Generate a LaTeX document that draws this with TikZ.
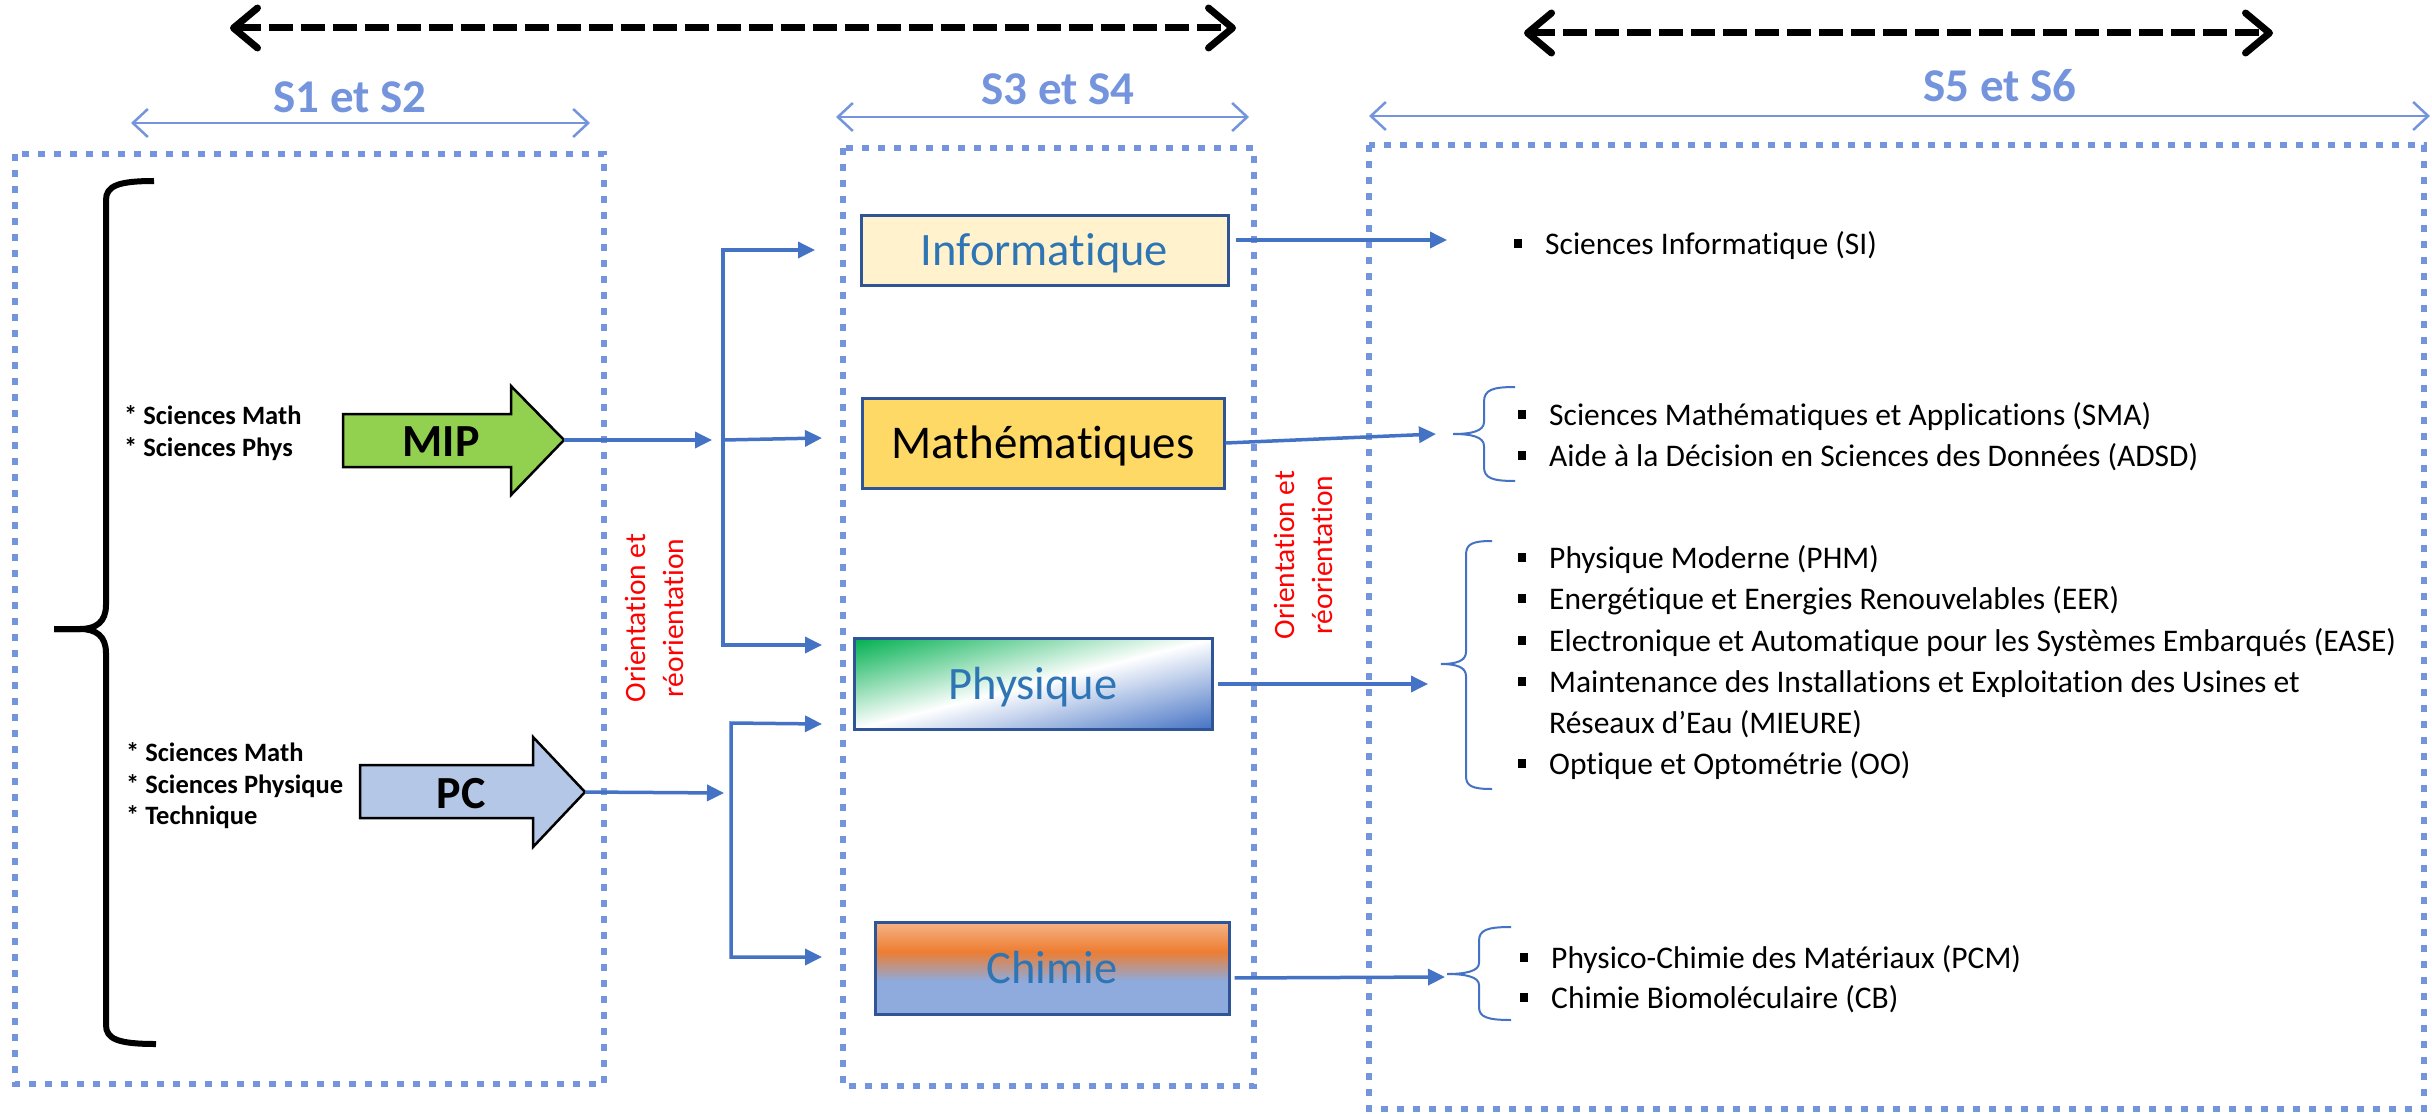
\documentclass[tikz,border=0pt]{standalone}
\usepackage{fontspec}
\setmainfont{Carlito}[Ligatures=NoCommon]
\usetikzlibrary{arrows.meta}
\definecolor{dotblue}{RGB}{116,149,221}
\definecolor{connblue}{RGB}{68,114,196}
\definecolor{txtblue}{RGB}{46,117,182}
\definecolor{bordblue}{RGB}{47,85,151}
\definecolor{mipgreen}{RGB}{146,208,80}
\definecolor{pcblue}{RGB}{180,199,231}
\definecolor{infofill}{RGB}{255,242,204}
\definecolor{mathfill}{RGB}{255,217,102}
\definecolor{physgreen}{RGB}{0,176,80}
\definecolor{physblue}{RGB}{68,114,196}
\definecolor{chlight}{RGB}{245,180,135}
\definecolor{chorange}{RGB}{237,125,49}
\definecolor{chblue}{RGB}{143,170,220}
\definecolor{redtxt}{RGB}{255,0,0}
\pgfdeclareverticalshading{chimshade}{100bp}{color(0bp)=(chblue); color(43bp)=(chblue); color(59bp)=(chorange); color(75bp)=(chlight); color(100bp)=(chlight)}
\newcommand{\myfs}[2]{\fontsize{#1}{#2}\selectfont}
\newcommand{\itembul}{\rule[6pt]{8pt}{9pt}\hspace{23pt}}
\tikzset{
  dotbox/.style={draw=dotblue, line width=6.5pt, dash pattern=on 7pt off 9pt},
  conn/.style={draw=connblue, line width=3.5pt, -{Triangle[length=17pt,width=16pt]}},
  connboth/.style={draw=connblue, line width=3.5pt, {Triangle[length=17pt,width=16pt]}-{Triangle[length=17pt,width=16pt]}},
  bigarrow/.style={draw=black, line width=7pt, dash pattern=on 24pt off 8pt,
     {Straight Barb[length=24pt,width=40pt,round]}-{Straight Barb[length=24pt,width=40pt,round]}},
  sline/.style={draw=dotblue, line width=2.5pt,
     {Straight Barb[length=15pt,width=28pt]}-{Straight Barb[length=15pt,width=28pt]}},
  slabel/.style={text=dotblue, font=\bfseries\myfs{47}{50}, inner sep=0, text height=29pt, text depth=0pt},
  boxst/.style={draw=bordblue, line width=3pt, inner sep=0, text height=30pt, text depth=0pt, font=\myfs{46.5}{50}},
  blockarrow/.style={draw=black, line width=2.5pt, line join=miter},
  blocklabel/.style={font=\bfseries\myfs{46}{50}, inner sep=0, text height=30pt, text depth=0pt},
  redlab/.style={text=redtxt, font=\myfs{29.5}{38}, rotate=90, align=center, inner sep=0},
  leftlab/.style={font=\bfseries\myfs{26.5}{31.5}, align=left, inner sep=0, anchor=west},
  itemst/.style={font=\myfs{31.5}{36}, inner sep=0, anchor=base west},
  bracebl/.style={draw=connblue, line width=2pt},
}
\begin{document}
\begin{tikzpicture}[x=1pt,y=-1pt]
\useasboundingbox (0,0) rectangle (2432,1113);
\fill[white] (0,0) rectangle (2432,1113);

% column containers
\draw[dotbox] (15,154) rectangle (604,1084);
\draw[dotbox] (843,148) rectangle (1254,1086);
\draw[dotbox] (1369,145) rectangle (2424,1109);

% top dashed arrows
\coordinate (d1l) at (230,28);
\coordinate (d1r) at (1236,28);
\draw[bigarrow] (d1l) -- (d1r);
\coordinate (d2l) at (1524,33);
\coordinate (d2r) at (2273,33);
\draw[bigarrow] (d2l) -- (d2r);

% semester labels
\node[slabel] (s1) at (350,98) {S1 et S2};
\node[slabel] (s3) at (1058,90) {S3 et S4};
\node[slabel] (s5) at (2000,87) {S5 et S6};
\coordinate (s1l) at (131,123); \coordinate (s1r) at (590,123);
\coordinate (s3l) at (836,117); \coordinate (s3r) at (1249,117);
\coordinate (s5l) at (1369,116); \coordinate (s5r) at (2430,116);
\draw[sline] (s1l) -- (s1r);
\draw[sline] (s3l) -- (s3r);
\draw[sline] (s5l) -- (s5r);

% big black brace
\draw[line width=6pt] (154,181) .. controls (118,181) and (106,186) .. (106,200)
  -- (106,605) .. controls (106,622) and (96,629) .. (80,629) -- (54,629);
\draw[line width=6pt] (54,629) -- (80,629) .. controls (96,629) and (106,636) .. (106,653)
  -- (106,1025) .. controls (106,1039) and (118,1044) .. (156,1044);

% left texts
\node[leftlab] (g1) at (124,433) {* Sciences Math\\* Sciences Phys};
\node[leftlab] (g2) at (126,786) {* Sciences Math\\* Sciences Physique\\* Technique};

% MIP and PC block arrows
\draw[blockarrow, fill=mipgreen] (343,414) -- (511,414) -- (511,386) -- (564,440) -- (511,495) -- (511,467) -- (343,467) -- cycle;
\node[blocklabel] (mip) at (441,441) {MIP};
\coordinate (miptip) at (564,440);
\draw[blockarrow, fill=pcblue] (360,765) -- (533,765) -- (533,737) -- (585,792) -- (533,847) -- (533,818) -- (360,818) -- cycle;
\node[blocklabel] (pc) at (461,793) {PC};
\coordinate (pctip) at (585,792);

% physique diagonal gradient (clipped)
\begin{scope}
  \clip (854,638.5) rectangle (1212,729.5);
  \begin{scope}[transform canvas={shift={(1033,684)}, rotate=14.26}]
    \shade[top color=physgreen, bottom color=physblue, middle color=white] (-200,-88.2) rectangle (200,88.2);
  \end{scope}
\end{scope}

% S3/S4 boxes
\node[boxst, fill=infofill, text=txtblue, minimum width=367pt, minimum height=70pt] (info) at (1044.5,250) {Informatique};
\node[boxst, fill=mathfill, text=black, minimum width=362pt, minimum height=90pt, font=\myfs{47}{50}] (math) at (1043,443) {Mathématiques};
\node[boxst, text=txtblue, minimum width=358pt, minimum height=91pt] (phys) at (1033,684) {Physique};
\node[boxst, shade, shading=chimshade, text=txtblue, minimum width=354pt, minimum height=92pt] (chim) at (1052,968) {Chimie};

% orientation connectors (left)
\coordinate (j1) at (712,440);
\coordinate (v1t) at (723,250);
\coordinate (v1m) at (723,440);
\coordinate (v1b) at (723,645);
\coordinate (ainfo) at (815,250);
\coordinate (amath) at (822,438);
\coordinate (aphys1) at (822,645);
\draw[conn] (miptip) -- (j1);
\draw[connboth] (ainfo) -- (v1t) -- (v1b) -- (aphys1);
\draw[conn] (v1m) -- (amath);

\coordinate (j2) at (724,793);
\coordinate (v2t) at (731,723);
\coordinate (v2b) at (731,957);
\coordinate (aphys2) at (822,724);
\coordinate (achim) at (822,957);
\draw[conn] (pctip) -- (j2);
\draw[connboth] (aphys2) -- (v2t) -- (v2b) -- (achim);

% red labels
\node[redlab] (or1) at (654,618) {Orientation et\\réorientation};
\node[redlab] (or2) at (1303,555) {Orientation et\\réorientation};

% outgoing connectors
\coordinate (tsi) at (1447,240);
\coordinate (tmath) at (1436,434);
\coordinate (tphys) at (1428,684);
\coordinate (tchim) at (1445,977);
\draw[conn, shorten <=6pt] (info.east |- tsi) -- (tsi);
\draw[conn] (math.east) -- (tmath);
\draw[conn, shorten <=4pt] (phys.east) -- (tphys);
\draw[conn, shorten <=4pt] ([yshift=-10pt]chim.east) -- (tchim);

% thin blue braces
\draw[bracebl] (1515,387) .. controls (1492,387) and (1484,390) .. (1484,402) -- (1484,422)
  .. controls (1484,431) and (1472,434) .. (1453,434)
  .. controls (1472,434) and (1484,437) .. (1484,446) -- (1484,467)
  .. controls (1484,478) and (1492,481) .. (1515,481);
\draw[bracebl] (1492,541) .. controls (1472,541) and (1466,544) .. (1466,555) -- (1466,652)
  .. controls (1466,661) and (1456,664) .. (1441,664)
  .. controls (1456,664) and (1466,667) .. (1466,676) -- (1466,776)
  .. controls (1466,786) and (1472,789) .. (1492,789);
\draw[bracebl] (1511,927) .. controls (1487,927) and (1479,930) .. (1479,941) -- (1479,963)
  .. controls (1479,971) and (1466,974) .. (1447,974)
  .. controls (1466,974) and (1479,977) .. (1479,985) -- (1479,1007)
  .. controls (1479,1017) and (1487,1020) .. (1511,1020);

% right item lists
\node[itemst] (si) at (1514,254) {\itembul Sciences Informatique (SI)};
\node[itemst] (sma) at (1518,425) {\itembul Sciences Mathématiques et Applications (SMA)};
\node[itemst] (adsd) at (1518,466) {\itembul Aide à la Décision en Sciences des Données (ADSD)};
\node[itemst] (phm) at (1518,568) {\itembul Physique Moderne (PHM)};
\node[itemst] (eer) at (1518,609) {\itembul Energétique et Energies Renouvelables (EER)};
\node[itemst] (ease) at (1518,651) {\itembul Electronique et Automatique pour les Systèmes Embarqués (EASE)};
\node[itemst] (mie1) at (1518,692) {\itembul Maintenance des Installations et Exploitation des Usines et};
\node[itemst] (mie2) at (1549,733) {Réseaux d’Eau (MIEURE)};
\node[itemst] (oo) at (1518,774) {\itembul Optique et Optométrie (OO)};
\node[itemst] (pcm) at (1520,968) {\itembul Physico-Chimie des Matériaux (PCM)};
\node[itemst] (cb) at (1520,1008) {\itembul Chimie Biomoléculaire (CB)};
\end{tikzpicture}
\end{document}
